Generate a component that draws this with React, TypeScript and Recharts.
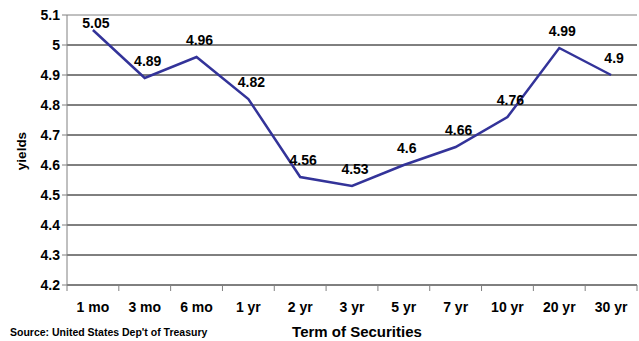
import { LineChart, Line, XAxis, YAxis, CartesianGrid, LabelList } from "recharts";

const terms = ["1 mo", "3 mo", "6 mo", "1 yr", "2 yr", "3 yr", "5 yr", "7 yr", "10 yr", "20 yr", "30 yr"];
const yields = [5.05, 4.89, 4.96, 4.82, 4.56, 4.53, 4.6, 4.66, 4.76, 4.99, 4.9];
const yTicks = [4.2, 4.3, 4.4, 4.5, 4.6, 4.7, 4.8, 4.9, 5, 5.1];

const data = terms.map((t, i) => ({ term: t, y: yields[i] }));

const W = 639;
const H = 341;
const font = "'Liberation Sans', Arial, sans-serif";

function TermTick(props: any) {
  const { x, y, payload, index } = props;
  const band = (W - 67 - 2) / terms.length;
  const top = y - 8;
  return (
    <g>
      <line x1={x - band / 2} x2={x - band / 2} y1={top} y2={top + 6} stroke="#808080" />
      {index === terms.length - 1 && (
        <line x1={x + band / 2} x2={x + band / 2} y1={top} y2={top + 6} stroke="#808080" />
      )}
      <text x={x} y={top + 27} textAnchor="middle" fontFamily={font} fontWeight="bold" fontSize={14} fill="#000">
        {payload.value}
      </text>
    </g>
  );
}

// value label sits ~12px above the point, kept inside the top of the plot
function ValueLabel(props: any) {
  const { x, y, value } = props;
  const base = Math.max(y - 12, 28);
  return (
    <text x={x + 3} y={base} textAnchor="middle" fontFamily={font} fontWeight="bold" fontSize={14} fill="#000">
      {value}
    </text>
  );
}

export default function App() {
  return (
    <div style={{ position: "absolute", left: 0, top: 0, width: W, height: H, background: "#fff" }}>
      <LineChart width={W} height={H} data={data} margin={{ top: 15, right: 2, bottom: 26, left: 0 }}>
        <CartesianGrid vertical={false} stroke="#000" horizontalValues={yTicks.slice(0, -1)} />
        <XAxis
          dataKey="term"
          scale="band"
          height={30}
          tickLine={false}
          axisLine={{ stroke: "#808080" }}
          tick={<TermTick />}
          interval={0}
        />
        <YAxis
          domain={[4.2, 5.1]}
          ticks={yTicks}
          width={67}
          tickSize={5}
          tickLine={{ stroke: "#808080" }}
          axisLine={{ stroke: "#808080" }}
          tickFormatter={(v) => String(Math.round(v * 10) / 10)}
          tick={{ fill: "#000", fontFamily: font, fontWeight: "bold", fontSize: 14 }}
        />
        <Line
          dataKey="y"
          stroke="#333399"
          strokeWidth={2.5}
          dot={false}
          isAnimationActive={false}
        >
          <LabelList dataKey="y" content={<ValueLabel />} />
        </Line>
        <line x1={67} x2={W - 2} y1={15} y2={15} stroke="#808080" />
      </LineChart>
      <div
        style={{
          position: "absolute",
          left: 11,
          top: 151,
          transform: "translate(-50%, -50%) rotate(-90deg)",
          transformOrigin: "center",
          fontFamily: font,
          fontWeight: "bold",
          fontSize: 13.5,
          marginLeft: 10,
        }}
      >
        yields
      </div>
      <div
        style={{
          position: "absolute",
          left: 0,
          width: 714,
          top: 323,
          textAlign: "center",
          fontFamily: font,
          fontWeight: "bold",
          fontSize: 15,
        }}
      >
        Term of Securities
      </div>
      <div
        style={{
          position: "absolute",
          left: 10,
          top: 326,
          fontFamily: font,
          fontWeight: "bold",
          fontSize: 10.5,
        }}
      >
        Source: United States Dep't of Treasury
      </div>
    </div>
  );
}
